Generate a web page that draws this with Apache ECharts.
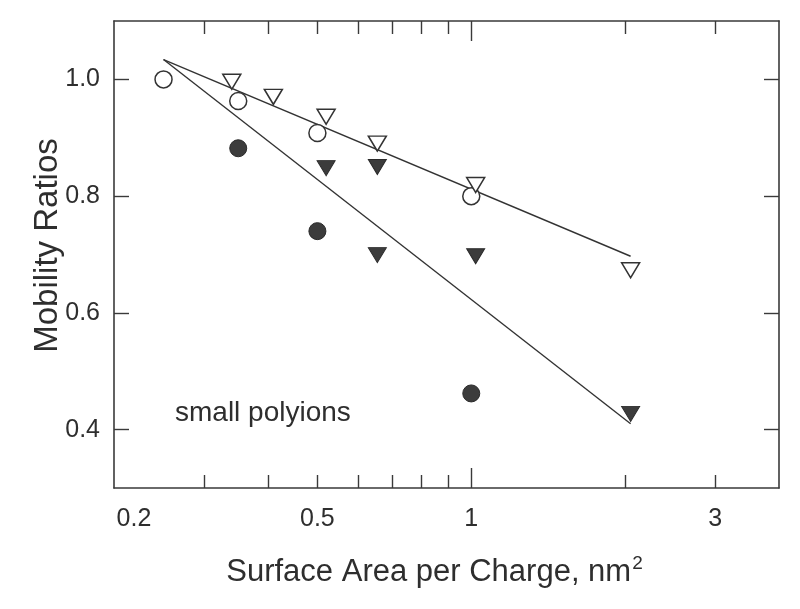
<!DOCTYPE html>
<html>
<head>
<meta charset="utf-8">
<script src="https://cdn.jsdelivr.net/npm/echarts@6/dist/echarts.min.js"></script>
<style>html,body{margin:0;padding:0;background:#fff;}#c{width:800px;height:609px;}</style>
</head>
<body>
<div id="c"></div>
<script>
// ---- data ----
var openCircleX = [0.25, 0.35, 0.5, 1.0];
var openCircleY = [1.0, 0.963, 0.908, 0.80];
var openTriX = [0.34, 0.41, 0.52, 0.655, 1.02, 2.05];
var openTriY = [0.996, 0.970, 0.936, 0.890, 0.819, 0.673];
var filledCircleX = [0.35, 0.5, 1.0];
var filledCircleY = [0.882, 0.740, 0.462];
var filledTriX = [0.52, 0.655, 0.655, 1.02, 2.05];
var filledTriY = [0.848, 0.850, 0.699, 0.697, 0.427];
var fitUpperX = [0.25, 2.05];
var fitUpperY = [1.034, 0.697];
var fitLowerX = [0.25, 2.05];
var fitLowerY = [1.034, 0.410];
var xTickLabels = [0.2, 0.5, 1, 3];
var xMinorTicks = [0.3, 0.4, 0.5, 0.6, 0.7, 0.8, 0.9, 2, 3];
var xMajorTicks = [1];
var yTickLabels = [0.4, 0.6, 0.8, 1.0];
var xTitle = 'Surface Area per Charge, nm';
var yTitle = 'Mobility Ratios';
var annotation = 'small polyions';

function zip(a, b) { return a.map(function (v, i) { return [v, b[i]]; }); }

var FONT = "'Liberation Sans', Arial, sans-serif";
var TXT = '#2e2e2e';
var AX = '#3a3a3a';
var DARK = '#3c3c3c';

function xAxisBase(pos, ticks, len) {
  return {
    type: 'log', logBase: 10, min: 0.2, max: 4, position: pos,
    gridIndex: 0,
    axisLine: { show: true, lineStyle: { color: AX, width: 1.6 } },
    axisTick: { show: true, inside: true, length: len, customValues: ticks, lineStyle: { color: AX, width: 1.4 } },
    axisLabel: { show: false },
    splitLine: { show: false },
    minorTick: { show: false }
  };
}

var xMain = xAxisBase('bottom', xMinorTicks, 13);
xMain.axisLabel = {
  show: true, customValues: xTickLabels, margin: 19,
  fontFamily: FONT, fontSize: 25, color: TXT,
  formatter: function (v) {
    var s = String(+(+v).toPrecision(6));
    return Math.abs(v - 0.2) < 1e-9 ? '{m|' + s + '}' : s;
  },
  rich: { m: { padding: [0, 0, 0, 40], fontFamily: FONT, fontSize: 25, color: TXT } }
};
xMain.name = '{t|' + xTitle + '}{s|2}';
xMain.nameLocation = 'middle';
xMain.nameGap = 66;
xMain.nameMoveOverlap = false;
xMain.nameTextStyle = {
  padding: [0, 24, 0, 0],
  rich: {
    t: { fontFamily: FONT, fontSize: 31, color: TXT },
    s: { fontFamily: FONT, fontSize: 19, color: TXT, verticalAlign: 'top', padding: [0, 0, 17, 1] }
  }
};

var option = {
  backgroundColor: '#ffffff',
  animation: false,
  grid: { left: 114, right: 21, top: 21, bottom: 121, containLabel: false },
  xAxis: [
    xMain,
    Object.assign(xAxisBase('bottom', xMajorTicks, 20), { axisLine: { show: false } }),
    xAxisBase('top', xMinorTicks, 13),
    Object.assign(xAxisBase('top', xMajorTicks, 20), { axisLine: { show: false } })
  ],
  yAxis: [
    {
      type: 'value', min: 0.3, max: 1.1, position: 'left',
      axisLine: { show: true, lineStyle: { color: AX, width: 1.6 } },
      axisTick: { show: true, inside: true, length: 15, customValues: yTickLabels, lineStyle: { color: AX, width: 1.4 } },
      axisLabel: {
        show: true, customValues: yTickLabels, margin: 14,
        fontFamily: FONT, fontSize: 25, color: TXT,
        formatter: function (v) { return (+v).toFixed(1); }
      },
      splitLine: { show: false },
      name: yTitle, nameLocation: 'middle', nameGap: 50, nameMoveOverlap: false,
      nameTextStyle: { fontFamily: FONT, fontSize: 33, color: TXT, padding: [0, 0, 0, 18] }
    },
    {
      type: 'value', min: 0.3, max: 1.1, position: 'right',
      axisLine: { show: true, lineStyle: { color: AX, width: 1.6 } },
      axisTick: { show: true, inside: true, length: 15, customValues: yTickLabels, lineStyle: { color: AX, width: 1.4 } },
      axisLabel: { show: false },
      splitLine: { show: false }
    }
  ],
  series: [
    {
      type: 'line', data: zip(fitUpperX, fitUpperY), symbol: 'none',
      lineStyle: { color: '#333', width: 1.4 }, silent: true, z: 2
    },
    {
      type: 'line', data: zip(fitLowerX, fitLowerY), symbol: 'none',
      lineStyle: { color: '#333', width: 1.4 }, silent: true, z: 2
    },
    {
      type: 'scatter', data: zip(openCircleX, openCircleY), symbol: 'circle', symbolSize: 17,
      itemStyle: { color: '#ffffff', borderColor: '#333', borderWidth: 1.5, opacity: 1 }, z: 3
    },
    {
      type: 'scatter', data: zip(openTriX, openTriY), symbol: 'triangle', symbolRotate: 180, symbolSize: [18, 15],
      itemStyle: { color: '#ffffff', borderColor: '#333', borderWidth: 1.5, opacity: 1 }, z: 4
    },
    {
      type: 'scatter', data: zip(filledCircleX, filledCircleY), symbol: 'circle', symbolSize: 17,
      itemStyle: { color: DARK, borderColor: '#2a2a2a', borderWidth: 1, opacity: 1 }, z: 3
    },
    {
      type: 'scatter', data: zip(filledTriX, filledTriY), symbol: 'triangle', symbolRotate: 180, symbolSize: [18, 15],
      itemStyle: { color: DARK, borderColor: '#2a2a2a', borderWidth: 1, opacity: 1 }, z: 3
    }
  ],
  graphic: [
    {
      type: 'text', left: 175, top: 399,
      style: { text: annotation, fontFamily: FONT, fontSize: 28, fill: TXT }
    }
  ]
};

var chart = echarts.init(document.getElementById('c'), null, { renderer: 'canvas' });
chart.setOption(option);
</script>
</body>
</html>
